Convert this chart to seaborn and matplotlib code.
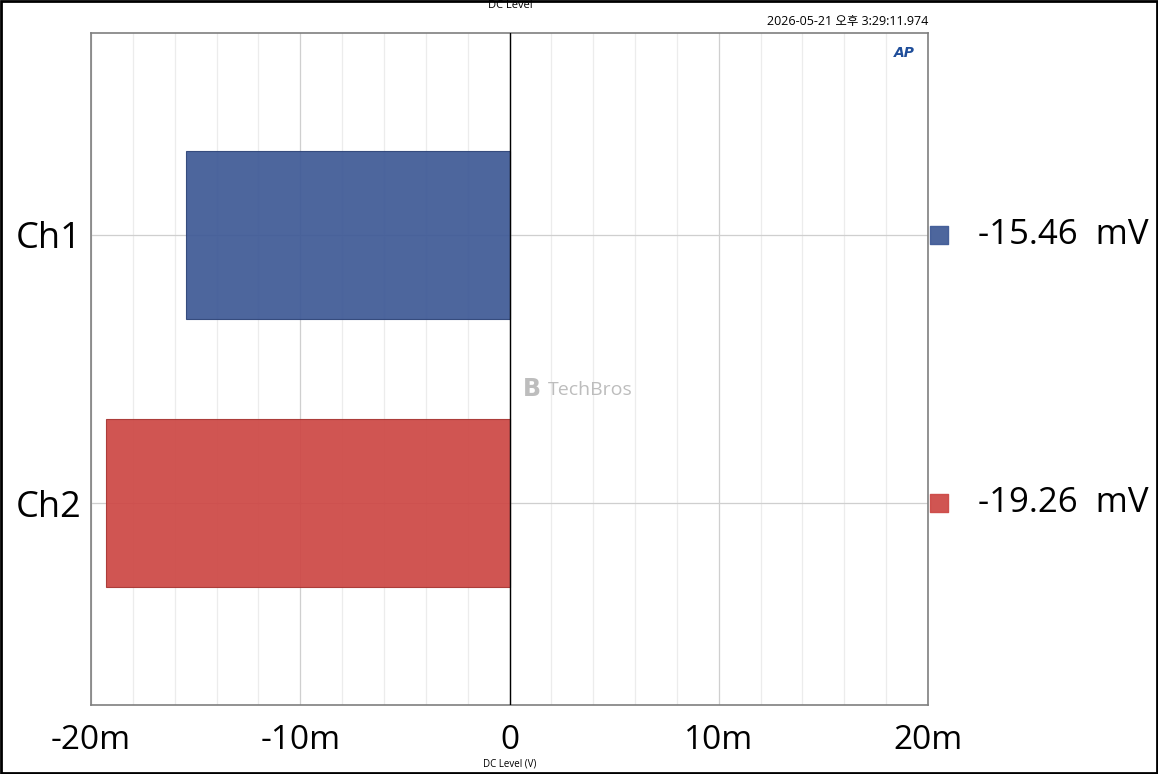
import matplotlib
matplotlib.use("Agg")
import matplotlib.pyplot as plt
import matplotlib.ticker as mticker
from matplotlib.patches import Rectangle
import seaborn as sns
import pandas as pd

# ---- data ----
channels = ["Ch1", "Ch2"]
dc_level_v = [-15.46e-3, -19.26e-3]
bar_colors = ["#3f5a96", "#cd4845"]
edge_colors = ["#2e4478", "#a83532"]
x_ticks = [-20e-3, -10e-3, 0.0, 10e-3, 20e-3]
x_tick_labels = ["-20m", "-10m", "0", "10m", "20m"]
title = "DC Level"
x_label = "DC Level (V)"
timestamp = "2026-05-21 오후 3:29:11.974"

sns.set_theme(style="white")
plt.rcParams["font.family"] = ["Open Sans", "Noto Sans CJK KR", "DejaVu Sans"]
plt.rcParams["text.color"] = "black"
plt.rcParams["xtick.color"] = "black"
plt.rcParams["ytick.color"] = "black"
plt.rcParams["axes.labelcolor"] = "black"

df = pd.DataFrame({"channel": channels, "value": dc_level_v})

fig = plt.figure(figsize=(11.58, 7.74), dpi=100)
ax = fig.add_axes([91/1158, 1-705/774, 837/1158, 672/774])

sns.barplot(data=df, x="value", y="channel", hue="channel", palette=bar_colors,
            orient="h", width=0.625, alpha=0.93, saturation=1,
            linewidth=0.8, legend=False, ax=ax, zorder=2)
for patch, ec in zip(ax.patches, edge_colors):
    patch.set_edgecolor(ec)

ax.set_xlim(-20e-3, 20e-3)
ax.set_ylim(1.75, -0.75)
ax.xaxis.set_major_locator(mticker.FixedLocator(x_ticks))
ax.xaxis.set_minor_locator(mticker.MultipleLocator(2e-3))
ax.set_xticklabels(x_tick_labels, fontsize=24, family=["Liberation Sans Narrow", "Open Sans", "DejaVu Sans"])
ax.tick_params(axis="x", which="both", length=0, pad=14)
ax.tick_params(axis="y", length=0, pad=7, labelsize=26)
for lbl in ax.get_yticklabels():
    lbl.set_fontfamily(["Open Sans", "DejaVu Sans"])

ax.grid(True, which="major", axis="both", color="#cfcfcf", linewidth=0.9, zorder=0)
ax.grid(True, which="minor", axis="x", color="#ececec", linewidth=0.9, zorder=0)
ax.set_axisbelow(True)
ax.axvline(0, color="black", linewidth=1.0, zorder=3)
for s in ax.spines.values():
    s.set_color("#7f7f7f")
    s.set_linewidth(1.2)

ax.set_xlabel("")
ax.set_ylabel("")
fig.text(510/1158, 1-764/774, x_label, ha="center", va="center", fontsize=7,
         family=["Liberation Sans Narrow", "Open Sans", "DejaVu Sans"])

# right-side value legend
ytr = ax.get_yaxis_transform()
for i, (ch, v) in enumerate(zip(channels, dc_level_v)):
    ax.scatter([1.0135], [i], marker="s", s=150, color=bar_colors[i], alpha=0.93,
               transform=ytr, clip_on=False, zorder=5)
    ax.text(1.06, i, f"{v*1e3:.2f}  mV", transform=ytr, fontsize=25,
            va="center", ha="left", family=["Open Sans", "DejaVu Sans"])

# title / timestamp
fig.text(510/1158, 1-5/774, title, ha="center", va="center", fontsize=8,
         family=["Liberation Sans Narrow", "Open Sans", "DejaVu Sans"])
fig.text(928/1158, 1-21/774, timestamp, ha="right", va="center", fontsize=9)

# AP logo
fig.text(904/1158, 1-53/774, "AP", ha="center", va="center", fontsize=10,
         fontweight="bold", fontstyle="italic", color="#1f4e9a", family=["DejaVu Sans"])

# watermark
fig.text(590/1158, 1-390/774, "TechBros", ha="center", va="center", fontsize=14,
         color="#bdbdbd", family=["Open Sans", "DejaVu Sans"])
fig.text(532/1158, 1-389/774, "B", ha="center", va="center", fontsize=17,
         color="#bdbdbd", fontweight="bold", family=["DejaVu Sans"])

# figure border
fig.patches.append(Rectangle((0.001, 0.001), 0.998, 0.998, transform=fig.transFigure,
                             fill=False, edgecolor="black", linewidth=2))

fig.savefig("out.png", dpi=100)
